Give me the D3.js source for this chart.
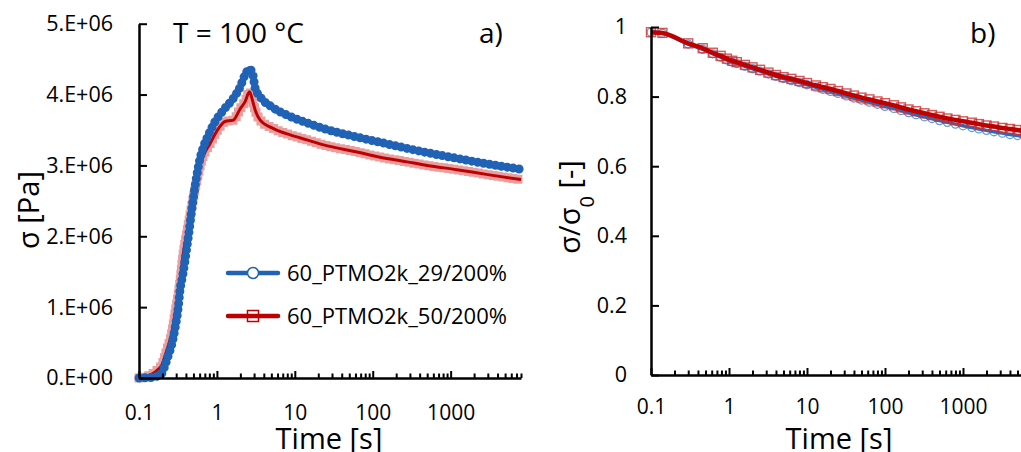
<!DOCTYPE html>
<html>
<head>
<meta charset="utf-8">
<script src="https://cdn.jsdelivr.net/npm/d3@7"></script>
<style>
  body { margin: 0; background: #fff; }
  text { font-family: "Open Sans", sans-serif; fill: #000; }
</style>
</head>
<body>
<svg id="chart" width="1021" height="452"></svg>
<script>
// ---- data ----
// panel a) stress vs time
const timeBlueA = [0.1, 0.1135, 0.15, 0.175, 0.196, 0.216, 0.238, 0.263, 0.29, 0.32, 0.336, 0.364, 0.39, 0.418, 0.443, 0.466, 0.509, 0.552, 0.608, 0.671, 0.778, 0.949, 1.21, 1.63, 1.99, 2.3, 2.62, 2.89, 3.1, 3.59, 5.33, 8.73, 14.3, 23.4, 62.8, 120, 276, 500, 1200, 3000, 8000];
const sigmaBlueA = [0, 0.002e6, 0.01e6, 0.03e6, 0.066e6, 0.18e6, 0.32e6, 0.47e6, 0.7e6, 1.01e6, 1.24e6, 1.45e6, 1.66e6, 1.9e6, 2.1e6, 2.3e6, 2.61e6, 2.86e6, 3.1e6, 3.26e6, 3.43e6, 3.62e6, 3.78e6, 3.95e6, 4.11e6, 4.28e6, 4.36e6, 4.28e6, 4.09e6, 3.97e6, 3.81e6, 3.69e6, 3.6e6, 3.52e6, 3.4e6, 3.33e6, 3.24e6, 3.18e6, 3.1e6, 3.02e6, 2.945e6];
const timeRedA = [0.1, 0.125, 0.153, 0.175, 0.196, 0.227, 0.263, 0.29, 0.33, 0.371, 0.41, 0.475, 0.552, 0.64, 0.818, 1.045, 1.27, 1.63, 1.99, 2.3, 2.62, 2.89, 3.1, 3.59, 5.33, 8.73, 14.3, 23.4, 62.8, 120, 276, 500, 1200, 3000, 8000];
const sigmaRedA = [0, 0.02e6, 0.066e6, 0.12e6, 0.18e6, 0.39e6, 0.63e6, 0.91e6, 1.29e6, 1.76e6, 2.04e6, 2.42e6, 2.79e6, 3.08e6, 3.31e6, 3.52e6, 3.62e6, 3.64e6, 3.8e6, 3.9e6, 4.04e6, 3.9e6, 3.78e6, 3.64e6, 3.52e6, 3.43e6, 3.36e6, 3.29e6, 3.19e6, 3.12e6, 3.05e6, 3.0e6, 2.94e6, 2.87e6, 2.8e6];

// panel b) normalised stress vs relaxation time
const timeB = [0.1, 0.14, 0.3, 0.46, 0.62, 0.78, 0.94, 1.1, 1.26, 1.6, 2, 2.5, 3.2, 4, 5, 6.3, 8, 10, 13, 16, 20, 25, 32, 40, 50, 63, 80, 100, 130, 160, 200, 250, 320, 400, 500, 630, 800, 1000, 1300, 1600, 2000, 2500, 3200, 4000, 5000, 6300, 8000];
const ratioRedB = [0.985, 0.983, 0.953, 0.939, 0.926, 0.917, 0.909, 0.903, 0.899, 0.891, 0.884, 0.877, 0.869, 0.862, 0.856, 0.851, 0.845, 0.839, 0.832, 0.827, 0.822, 0.816, 0.809, 0.803, 0.797, 0.792, 0.786, 0.781, 0.775, 0.769, 0.763, 0.758, 0.752, 0.747, 0.742, 0.737, 0.733, 0.729, 0.725, 0.721, 0.717, 0.714, 0.71, 0.707, 0.704, 0.701, 0.698];
const ratioBlueB = [0.985, 0.982, 0.951, 0.936, 0.923, 0.913, 0.905, 0.899, 0.895, 0.887, 0.88, 0.873, 0.865, 0.858, 0.852, 0.846, 0.84, 0.834, 0.827, 0.821, 0.815, 0.809, 0.802, 0.796, 0.79, 0.784, 0.778, 0.772, 0.766, 0.76, 0.754, 0.748, 0.742, 0.737, 0.731, 0.726, 0.721, 0.716, 0.711, 0.707, 0.703, 0.699, 0.695, 0.691, 0.688, 0.684, 0.68];

const seriesNames = ["60_PTMO2k_29/200%", "60_PTMO2k_50/200%"];
const xTickLabels = [0.1, 1, 10, 100, 1000];
const yTicksA = [0, 1e6, 2e6, 3e6, 4e6, 5e6];
const yTickLabelsA = ["0.E+00", "1.E+06", "2.E+06", "3.E+06", "4.E+06", "5.E+06"];
const yTicksB = [0, 0.2, 0.4, 0.6, 0.8, 1];
const yTickLabelsB = ["0", "0.2", "0.4", "0.6", "0.8", "1"];

const blue = "#1f62b6";
const red = "#c00000";

const svg = d3.select("#chart");

// minor ticks 2..9 for each decade
const minorTicks = [];
[0.1, 1, 10, 100, 1000].forEach(d => {
  for (let k = 2; k <= 9; k++) if (d * k <= 8000) minorTicks.push(d * k);
});

function drawAxes(x, y, yTicks, yLabels, xLabelDy, yLabelPad) {
  // x axis: labels, major and minor ticks (ticks point inward)
  const gx = svg.append("g").attr("transform", `translate(0,${y.range()[0]})`);
  gx.append("g").call(d3.axisBottom(x).tickValues(minorTicks).tickSize(-4.5).tickFormat(""))
    .call(g => g.select(".domain").remove());
  gx.append("g").call(d3.axisBottom(x).tickValues(xTickLabels).tickSize(-7).tickSizeOuter(0).tickFormat(""))
    .call(g => g.select(".domain").attr("stroke-width", 2.5));
  gx.selectAll(".tick line").attr("stroke-width", 2);
  gx.append("g").call(d3.axisBottom(x).tickValues(xTickLabels).tickSize(0).tickPadding(xLabelDy).tickFormat(d => d))
    .call(g => g.select(".domain").remove())
    .selectAll("text").style("font-size", "21px").style("font-family", "Open Sans");

  // y axis
  const gy = svg.append("g").attr("transform", `translate(${x.range()[0]},0)`);
  gy.append("g").call(d3.axisLeft(y).tickValues(yTicks).tickSize(-8).tickSizeOuter(0).tickFormat(""))
    .call(g => g.select(".domain").attr("stroke-width", 2.5))
    .selectAll(".tick line").attr("stroke-width", 2);
  gy.append("g").call(d3.axisLeft(y).tickValues(yTicks).tickSize(0).tickPadding(yLabelPad)
      .tickFormat((d, i) => yLabels[i]))
    .call(g => g.select(".domain").remove())
    .selectAll("text").style("font-size", "21.5px").style("font-family", "Open Sans");
}

// ---------- panel a ----------
const xA = d3.scaleLog().domain([0.1, 8000]).range([139, 521]);
const yA = d3.scaleLinear().domain([0, 5e6]).range([378, 23.7]);

const blueA = timeBlueA.map((t, i) => [t, sigmaBlueA[i]]);
const redA = timeRedA.map((t, i) => [t, sigmaRedA[i]]);
const lineA = d3.line().x(d => xA(d[0])).y(d => yA(d[1])).curve(d3.curveMonotoneX);

// red: dense open squares + line
svg.append("path").datum(redA).attr("d", lineA)
  .attr("fill", "none").attr("stroke", "#d04040").attr("stroke-opacity", 0.5)
  .attr("stroke-width", 9).attr("stroke-linecap", "square").attr("stroke-dasharray", "0 5");
svg.append("path").datum(redA).attr("d", lineA)
  .attr("fill", "none").attr("stroke", red).attr("stroke-width", 3);

// blue: dense circles + line
svg.append("path").datum(blueA).attr("d", lineA)
  .attr("fill", "none").attr("stroke", blue).attr("stroke-width", 6);
svg.append("path").datum(blueA).attr("d", lineA)
  .attr("fill", "none").attr("stroke", blue).attr("stroke-width", 9)
  .attr("stroke-linecap", "round").attr("stroke-dasharray", "0 6");

drawAxes(xA, yA, yTicksA, yTickLabelsA, 27, 26);

// legend
const legend = svg.append("g");
[[273, blue, "circle"], [316, red, "square"]].forEach(([ly, col, shape], i) => {
  legend.append("line").attr("x1", 228).attr("x2", 278).attr("y1", ly).attr("y2", ly)
    .attr("stroke", col).attr("stroke-width", 4.5).attr("stroke-linecap", "round");
  if (shape === "circle") {
    legend.append("circle").attr("cx", 253).attr("cy", ly).attr("r", 5.5)
      .attr("fill", "#fff").attr("stroke", col).attr("stroke-width", 1.5);
  } else {
    legend.append("rect").attr("x", 247.5).attr("y", ly - 5.5).attr("width", 11).attr("height", 11)
      .attr("fill", "none").attr("stroke", col).attr("stroke-width", 1.5);
  }
  legend.append("text").attr("x", 287).attr("y", ly).attr("dy", "0.36em")
    .style("font-size", "22px").text(seriesNames[i]);
});

svg.append("text").attr("x", 173).attr("y", 43).style("font-size", "28px").text("T = 100 °C");
svg.append("text").attr("x", 479).attr("y", 43).style("font-size", "28px").text("a)");
svg.append("text").attr("x", 329).attr("y", 449).attr("text-anchor", "middle")
  .style("font-size", "29px").text("Time [s]");
svg.append("text").attr("transform", "translate(39,210) rotate(-90)").attr("text-anchor", "middle")
  .style("font-size", "29px").text("σ [Pa]");

// ---------- panel b ----------
const xB = d3.scaleLog().domain([0.1, 8000]).range([651, 651 + 78 * Math.log10(80000)]);
const yB = d3.scaleLinear().domain([0, 1]).range([375, 27]);

const blueB = timeB.map((t, i) => [t, ratioBlueB[i]]);
const redB = timeB.map((t, i) => [t, ratioRedB[i]]);
const lineB = d3.line().x(d => xB(d[0])).y(d => yB(d[1])).curve(d3.curveMonotoneX);

svg.append("g").selectAll("circle").data(blueB).join("circle")
  .attr("cx", d => xB(d[0])).attr("cy", d => yB(d[1])).attr("r", 4)
  .attr("fill", "none").attr("stroke", "#3f7fcc").attr("stroke-opacity", 0.8).attr("stroke-width", 1.3);
svg.append("path").datum(blueB).attr("d", lineB)
  .attr("fill", "none").attr("stroke", "#1f6ec4").attr("stroke-width", 3.5);
svg.append("g").selectAll("rect").data(redB).join("rect")
  .attr("x", d => xB(d[0]) - 4.5).attr("y", d => yB(d[1]) - 4.5).attr("width", 9).attr("height", 9)
  .attr("fill", "none").attr("stroke", "#cc3030").attr("stroke-opacity", 0.8).attr("stroke-width", 1.4);
svg.append("path").datum(redB).attr("d", lineB)
  .attr("fill", "none").attr("stroke", red).attr("stroke-width", 4.5);

drawAxes(xB, yB, yTicksB, yTickLabelsB, 24, 24);

svg.append("text").attr("x", 970).attr("y", 43).style("font-size", "28px").text("b)");
svg.append("text").attr("x", 839).attr("y", 449).attr("text-anchor", "middle")
  .style("font-size", "29px").text("Time [s]");
const yLabB = svg.append("text").attr("transform", "translate(580,207) rotate(-90)")
  .attr("text-anchor", "middle").style("font-size", "29px");
yLabB.append("tspan").text("σ/σ");
yLabB.append("tspan").attr("baseline-shift", "sub").style("font-size", "20px").text("0");
yLabB.append("tspan").text(" [-]");
</script>
</body>
</html>
